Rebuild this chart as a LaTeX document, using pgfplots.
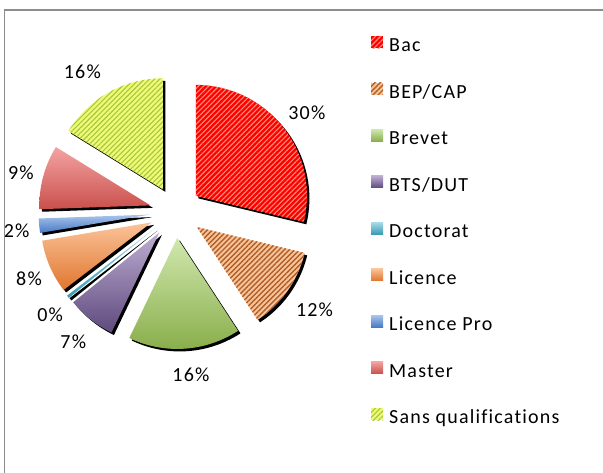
\documentclass[border=0pt]{standalone}
\usepackage{pgfplots}
\pgfplotsset{compat=1.18}
\usepackage{fontspec}
\setmainfont{Carlito}[LetterSpace=6, Ligatures=NoCommon]
\usetikzlibrary{patterns.meta}

\definecolor{bacred}{HTML}{FF0000}
\definecolor{bacstripe}{HTML}{FF8F7A}
\definecolor{bepbase}{HTML}{F9C49A}
\definecolor{bepstripe}{HTML}{B05E28}
\definecolor{sansbase}{HTML}{F0FA78}
\definecolor{sansstripe}{HTML}{A4C83A}
\definecolor{brevT}{HTML}{D0E8AE}
\definecolor{brevB}{HTML}{8AAE4C}
\definecolor{btsT}{HTML}{BDAED2}
\definecolor{btsB}{HTML}{5F4A7D}
\definecolor{docT}{HTML}{A7DCEA}
\definecolor{docB}{HTML}{3B9BB3}
\definecolor{licT}{HTML}{FBC39A}
\definecolor{licB}{HTML}{E0762E}
\definecolor{lpT}{HTML}{A9C5EB}
\definecolor{lpB}{HTML}{4779C4}
\definecolor{masT}{HTML}{F4A3A3}
\definecolor{masB}{HTML}{C9504C}
\definecolor{frame}{HTML}{8C8C8C}

\tikzset{
  sBac/.style={fill=bacred, postaction={pattern={Lines[angle=45,distance=3.6pt,line width=1.1pt]}, pattern color=bacstripe}},
  sBep/.style={fill=bepbase, postaction={pattern={Lines[angle=45,distance=3.6pt,line width=1.4pt]}, pattern color=bepstripe}},
  sBrev/.style={top color=brevT, bottom color=brevB},
  sBts/.style={top color=btsT, bottom color=btsB},
  sDoc/.style={top color=docT, bottom color=docB},
  sLic/.style={top color=licT, bottom color=licB},
  sLp/.style={top color=lpT, bottom color=lpB},
  sMas/.style={top color=masT, bottom color=masB},
  sSans/.style={fill=sansbase, postaction={pattern={Lines[angle=45,distance=3.6pt,line width=1.1pt]}, pattern color=sansstripe}},
}

\newcommand\lbl{\fontsize{20}{23}\selectfont}
\def\cum{0}
\def\cx{175.5}
\def\cy{261}
\def\rad{111}
\def\expl{26}
% #1 value (%), #2 legend text, #3 style, #4 label, #5 label angle offset, #6 label distance
\newcommand\slice[6]{%
  \pgfmathsetmacro\sa{\cum*3.6}%
  \pgfmathsetmacro\se{(\cum+#1)*3.6}%
  \pgfmathsetmacro\sm{(\sa+\se)/2}%
  \pgfmathsetmacro\ox{\cx+\expl*sin(\sm)}%
  \pgfmathsetmacro\oy{\cy+\expl*cos(\sm)}%
  \pgfmathsetmacro\sx{\ox+2.5}%
  \pgfmathsetmacro\sy{\oy-2.5}%
  \pgfmathsetmacro\lx{\cx+#6*sin(\sm+#5)}%
  \pgfmathsetmacro\ly{\cy+#6*cos(\sm+#5)}%
  \pgfmathtruncatemacro\ns{max(3,(\se-\sa)/2+2)}%
  \pgfmathsetmacro\newcum{\cum+#1}%
  \global\let\cum\newcum
  \edef\temp{%
    \noexpand\addplot[forget plot, fill=black, draw=none, domain=\sa:\se, samples=\ns]
      ({\sx+\rad*sin(x)},{\sy+\rad*cos(x)}) -- (axis cs:\sx,\sy) -- cycle;
    \noexpand\addplot[#3, draw=none, domain=\sa:\se, samples=\ns]
      ({\ox+\rad*sin(x)},{\oy+\rad*cos(x)}) -- (axis cs:\ox,\oy) -- cycle;
    \noexpand\addlegendentry{#2}
    \noexpand\node[font=\noexpand\lbl, inner sep=0pt] at (axis cs:\lx,\ly) {#4};
  }\temp
}

\begin{document}
\begin{tikzpicture}
\begin{axis}[
  width=603pt, height=473pt, scale only axis,
  xmin=0, xmax=603, ymin=0, ymax=473,
  hide axis, clip=false,
  legend cell align=left,
  legend image code/.code={\fill[#1] (0pt,-1pt) rectangle (12pt,11pt);},
  legend style={draw=none, fill=none, at={(axis cs:371,437)}, anchor=north west,
    font=\lbl, inner sep=0pt, row sep=27pt, column sep=6pt,
    nodes={inner sep=0pt, text height=13pt, text depth=4pt}},
]
\slice{28.75}{Bac}{sBac}{30\%}{1.2}{164.6}
\slice{12.03}{BEP/CAP}{sBep}{12\%}{0}{170}
\slice{16.33}{Brevet}{sBrev}{16\%}{-1.6}{164}
\slice{7.05}{BTS/DUT}{sBts}{7\%}{0}{165}
\slice{0.42}{Doctorat}{sDoc}{0\%}{-1}{162}
\slice{7.78}{Licence}{sLic}{8\%}{-1}{161}
\slice{2.08}{Licence Pro}{sLp}{2\%}{-1}{160}
\slice{9.36}{Master}{sMas}{9\%}{-0.6}{159.5}
\slice{16.2}{Sans qualifications}{sSans}{16\%}{-4.5}{168}
\draw[frame, line width=1.5pt] (axis cs:603,463) -- (axis cs:4.5,463) -- (axis cs:4.5,0);
\end{axis}
\pgfresetboundingbox
\useasboundingbox (0,0) rectangle (603pt,473pt);
\end{tikzpicture}
\end{document}
